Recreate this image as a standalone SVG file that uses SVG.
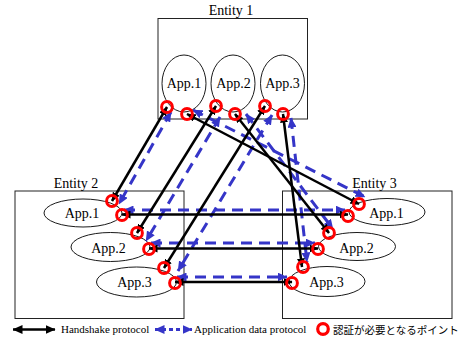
<svg xmlns="http://www.w3.org/2000/svg" width="458" height="340" viewBox="0 0 458 340">
<style>
  .box{fill:none;stroke:#222;stroke-width:1}
  .app{fill:#fff;stroke:#000;stroke-width:0.9}
  .t{font-family:"Liberation Serif","Times New Roman","DejaVu Serif",serif;font-size:14px;fill:#000;text-anchor:middle}
  .lg{font-family:"Liberation Serif","Times New Roman","DejaVu Serif",serif;font-size:11px;fill:#000}
  .jp{font-family:"Noto Sans CJK JP","Noto Sans",sans-serif;font-size:10.5px;fill:#000}
  .hs{fill:none;stroke:#000;stroke-width:2.5;marker-start:url(#ka);marker-end:url(#ka)}
  .ad{fill:none;stroke:#3535c8;stroke-width:3;stroke-dasharray:11 7;marker-start:url(#ba);marker-end:url(#ba)}
  .pt{fill:none;stroke:#ff0000;stroke-width:3}
</style>
<defs>
  <marker id="ka" markerUnits="userSpaceOnUse" viewBox="0 0 9 8" markerWidth="9" markerHeight="8" refX="8.5" refY="4" orient="auto-start-reverse">
    <path d="M0,0 L9,4 L0,8 z" fill="#000"/>
  </marker>
  <marker id="ba" markerUnits="userSpaceOnUse" viewBox="0 0 10 9" markerWidth="10" markerHeight="9" refX="9.5" refY="4.5" orient="auto-start-reverse">
    <path d="M0,0 L10,4.5 L0,9 z" fill="#3535c8"/>
  </marker>
  <marker id="kl" markerUnits="userSpaceOnUse" viewBox="0 0 10 9" markerWidth="10" markerHeight="9" refX="9.5" refY="4.5" orient="auto-start-reverse">
    <path d="M0,0 L10,4.5 L0,9 z" fill="#000"/>
  </marker>
</defs>
<rect width="458" height="340" fill="#fff"/>

<g id="entity1">
  <rect class="box" x="158" y="18.5" width="149.5" height="100.5"/>
  <text class="t" x="231" y="15">Entity 1</text>
</g>
<g id="entity2">
  <rect class="box" x="15" y="191" width="169" height="127.5"/>
  <text class="t" x="76" y="188">Entity 2</text>
</g>
<g id="entity3">
  <rect class="box" x="282.5" y="191" width="169.5" height="127.5"/>
  <text class="t" x="374.5" y="188">Entity 3</text>
</g>

<g id="e1-app1"><ellipse class="app" cx="184" cy="83.5" rx="22" ry="28.5"/><text class="t" x="184" y="88">App.1</text></g>
<g id="e1-app2"><ellipse class="app" cx="233" cy="83.5" rx="22" ry="28.5"/><text class="t" x="233.5" y="88">App.2</text></g>
<g id="e1-app3"><ellipse class="app" cx="282.5" cy="83.5" rx="22" ry="28.5"/><text class="t" x="282.5" y="88">App.3</text></g>

<g id="e2-app1"><ellipse class="app" cx="83" cy="213" rx="39" ry="14"/><text class="t" x="82" y="218">App.1</text></g>
<g id="e2-app2"><ellipse class="app" cx="110.5" cy="247" rx="39.5" ry="14.5"/><text class="t" x="108.5" y="253">App.2</text></g>
<g id="e2-app3"><ellipse class="app" cx="136.5" cy="282" rx="40" ry="15"/><text class="t" x="134.5" y="287">App.3</text></g>

<g id="e3-app1"><ellipse class="app" cx="387" cy="212" rx="38" ry="13.5"/><text class="t" x="386.5" y="218">App.1</text></g>
<g id="e3-app2"><ellipse class="app" cx="357" cy="246.5" rx="38.5" ry="14"/><text class="t" x="356.5" y="253">App.2</text></g>
<g id="e3-app3"><ellipse class="app" cx="327" cy="281.5" rx="38" ry="15"/><text class="t" x="326.5" y="287">App.3</text></g>

<g id="connectors">
  <!-- application data protocol -->
  <line class="ad" x1="171" y1="112" x2="119" y2="204"/>
  <line class="ad" x1="193" y1="110" x2="365" y2="197"/>
  <line class="ad" x1="220" y1="117" x2="146" y2="241"/>
  <line class="ad" x1="246" y1="114" x2="333" y2="229"/>
  <line class="ad" x1="272" y1="115" x2="178" y2="271"/>
  <line class="ad" x1="291" y1="118" x2="307" y2="262"/>
  <line class="ad" x1="124" y1="210" x2="345" y2="210"/>
  <line class="ad" x1="151" y1="243" x2="315" y2="243"/>
  <line class="ad" x1="177" y1="277" x2="287" y2="277"/>
  <!-- handshake protocol -->
  <line class="hs" x1="167" y1="107" x2="112" y2="201"/>
  <line class="hs" x1="187" y1="114" x2="359" y2="204"/>
  <line class="hs" x1="216" y1="106" x2="137" y2="233"/>
  <line class="hs" x1="235" y1="114" x2="329" y2="233"/>
  <line class="hs" x1="265" y1="106" x2="164" y2="268"/>
  <line class="hs" x1="283" y1="114" x2="302" y2="267"/>
  <line class="hs" x1="122" y1="214.5" x2="348" y2="214.5"/>
  <line class="hs" x1="149" y1="248.5" x2="318" y2="248.5"/>
  <line class="hs" x1="175" y1="282" x2="292" y2="282"/>
</g>

<g id="auth-points">
  <circle class="pt" cx="167" cy="107" r="5.4"/>
  <circle class="pt" cx="187" cy="114" r="5.4"/>
  <circle class="pt" cx="216" cy="106" r="5.4"/>
  <circle class="pt" cx="235" cy="114" r="5.4"/>
  <circle class="pt" cx="265" cy="106" r="5.4"/>
  <circle class="pt" cx="283" cy="114" r="5.4"/>
  <circle class="pt" cx="112" cy="201" r="5.4"/>
  <circle class="pt" cx="122" cy="215" r="5.4"/>
  <circle class="pt" cx="137" cy="233" r="5.4"/>
  <circle class="pt" cx="149" cy="249" r="5.4"/>
  <circle class="pt" cx="164" cy="268" r="5.4"/>
  <circle class="pt" cx="175" cy="283" r="5.4"/>
  <circle class="pt" cx="359" cy="204" r="5.4"/>
  <circle class="pt" cx="348" cy="216" r="5.4"/>
  <circle class="pt" cx="329" cy="233" r="5.4"/>
  <circle class="pt" cx="318" cy="249" r="5.4"/>
  <circle class="pt" cx="303" cy="267" r="5.4"/>
  <circle class="pt" cx="292" cy="283" r="5.4"/>
</g>

<g id="legend">
  <line x1="13" y1="329.5" x2="55" y2="329.5" stroke="#000" stroke-width="2.5" marker-start="url(#kl)" marker-end="url(#kl)"/>
  <text class="lg" x="61" y="333">Handshake protocol</text>
  <line x1="155" y1="329.5" x2="192" y2="329.5" stroke="#3535c8" stroke-width="3" stroke-dasharray="4 3" marker-start="url(#ba)" marker-end="url(#ba)"/>
  <text class="lg" x="194" y="333">Application data protocol</text>
  <circle cx="323" cy="329" r="5.3" fill="none" stroke="#ff0000" stroke-width="3.2"/>
  <text class="jp" x="333" y="333.5">認証が必要となるポイント</text>
</g>
</svg>
